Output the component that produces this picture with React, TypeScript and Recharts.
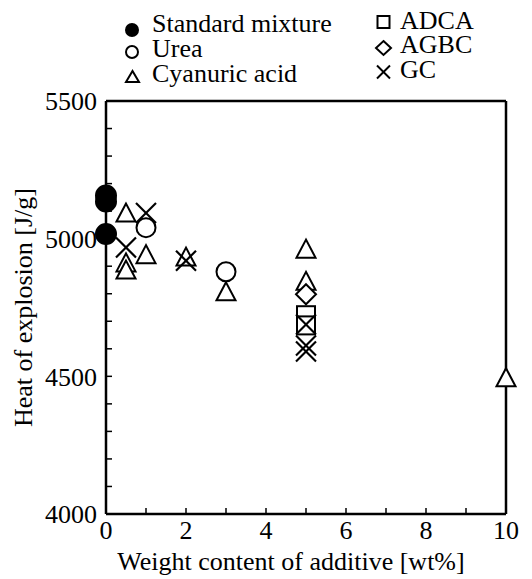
import { ScatterChart, Scatter, XAxis, YAxis, ReferenceLine } from "recharts";

const standardMixture = [
  { x: 0, y: 5157 },
  { x: 0, y: 5135 },
  { x: 0, y: 5017 },
];
const urea = [
  { x: 1, y: 5040 },
  { x: 3, y: 4880 },
];
const cyanuricAcid = [
  { x: 0.5, y: 5093 },
  { x: 0.5, y: 4912 },
  { x: 0.5, y: 4886 },
  { x: 1, y: 4942 },
  { x: 2, y: 4933 },
  { x: 3, y: 4807 },
  { x: 5, y: 4962 },
  { x: 5, y: 4845 },
  { x: 10, y: 4495 },
];
const adca = [
  { x: 5, y: 4722 },
  { x: 5, y: 4685 },
];
const agbc = [
  { x: 5, y: 4798 },
];
const gc = [
  { x: 0.5, y: 4968 },
  { x: 1, y: 5093 },
  { x: 2, y: 4920 },
  { x: 5, y: 4688 },
  { x: 5, y: 4612 },
  { x: 5, y: 4590 },
];

const xTicks = [0, 1, 2, 3, 4, 5, 6, 7, 8, 9, 10];
const yTicks = [4000, 4100, 4200, 4300, 4400, 4500, 4600, 4700, 4800, 4900, 5000, 5100, 5200, 5300, 5400, 5500];

const FONT = "Liberation Serif";
const SW = 2;

const filledCircle = (p: any) => <circle cx={p.cx} cy={p.cy} r={10} fill="#000" stroke="#000" strokeWidth={SW} />;
const openCircle = (p: any) => <circle cx={p.cx} cy={p.cy} r={9.5} fill="#fff" stroke="#000" strokeWidth={SW} />;
const triangle = (p: any) => (
  <polygon
    points={`${p.cx},${p.cy - 9.5} ${p.cx - 9.5},${p.cy + 8.5} ${p.cx + 9.5},${p.cy + 8.5}`}
    fill="#fff"
    stroke="#000"
    strokeWidth={SW}
  />
);
const square = (p: any) => (
  <rect x={p.cx - 9} y={p.cy - 9} width={18} height={18} fill="#fff" stroke="#000" strokeWidth={SW} />
);
const diamond = (p: any) => (
  <polygon
    points={`${p.cx},${p.cy - 10} ${p.cx + 10},${p.cy} ${p.cx},${p.cy + 10} ${p.cx - 10},${p.cy}`}
    fill="#fff"
    stroke="#000"
    strokeWidth={SW}
  />
);
const cross = (p: any) => (
  <g stroke="#000" strokeWidth={2.2}>
    <line x1={p.cx - 10} y1={p.cy - 10} x2={p.cx + 10} y2={p.cy + 10} />
    <line x1={p.cx - 10} y1={p.cy + 10} x2={p.cx + 10} y2={p.cy - 10} />
  </g>
);

const tickStyle = { fontSize: 26, fill: "#000", fontFamily: FONT };

// legend drawn as a separate overlay so it doesn't shift the plot area
const LegendBox = () => (
  <svg width={532} height={100} style={{ position: "absolute", left: 0, top: 0, pointerEvents: "none" }}>
    <g fill="#000" fontSize={26} fontFamily={FONT}>
      <circle cx={132} cy={30} r={7} fill="#000" />
      <text x={152} y={32}>Standard mixture</text>
      <circle cx={132} cy={52} r={6} fill="none" stroke="#000" strokeWidth={2} />
      <text x={152} y={57}>Urea</text>
      <polygon points="132.5,71 126,82 139,82" fill="none" stroke="#000" strokeWidth={2} />
      <text x={152} y={82}>Cyanuric acid</text>

      <rect x={377.5} y={16} width={12} height={12} fill="none" stroke="#000" strokeWidth={2} />
      <text x={400} y={29}>ADCA</text>
      <polygon points="383.5,41 391,48 383.5,55 376,48" fill="none" stroke="#000" strokeWidth={2} />
      <text x={400} y={53}>AGBC</text>
      <g stroke="#000" strokeWidth={2}>
        <line x1={377} y1={65.5} x2={390} y2={78.5} />
        <line x1={377} y1={78.5} x2={390} y2={65.5} />
      </g>
      <text x={400} y={78}>GC</text>
    </g>
  </svg>
);

export default function App() {
  return (
    <div style={{ position: "absolute", left: 0, top: 0, width: 532, height: 579, background: "#fff" }}>
      <ScatterChart width={532} height={579} margin={{ top: 101, right: 26, bottom: 0, left: 0 }}>
        <XAxis
          type="number"
          dataKey="x"
          domain={[0, 10]}
          ticks={xTicks}
          tickFormatter={(v: number) => (v % 2 === 0 ? String(v) : "")}
          height={65}
          tickSize={-6}
          tickMargin={13}
          tick={tickStyle}
          axisLine={{ stroke: "#000", strokeWidth: 2.5 }}
          tickLine={{ stroke: "#000", strokeWidth: 1.5 }}
          label={{
            value: "Weight content of additive [wt%]",
            position: "insideBottom",
            offset: 9,
            dx: -15,
            fontFamily: FONT,
            fontSize: 26,
            fill: "#000",
          }}
        />
        <YAxis
          type="number"
          dataKey="y"
          domain={[4000, 5500]}
          ticks={yTicks}
          tickFormatter={(v: number) => (v % 500 === 0 ? String(v) : "")}
          width={106}
          tickSize={-6}
          tickMargin={15}
          tick={tickStyle}
          axisLine={{ stroke: "#000", strokeWidth: 2.5 }}
          tickLine={{ stroke: "#000", strokeWidth: 1.5 }}
          label={{
            value: "Heat of explosion [J/g]",
            angle: -90,
            position: "insideLeft",
            offset: 23,
            fontFamily: FONT,
            fontSize: 26,
            fill: "#000",
            style: { textAnchor: "middle" },
          }}
        />
        <ReferenceLine x={10} stroke="#000" strokeWidth={2.5} />
        <ReferenceLine y={5500} stroke="#000" strokeWidth={2.5} />
        <Scatter data={standardMixture} shape={filledCircle} isAnimationActive={false} />
        <Scatter data={urea} shape={openCircle} isAnimationActive={false} />
        <Scatter data={cyanuricAcid} shape={triangle} isAnimationActive={false} />
        <Scatter data={agbc} shape={diamond} isAnimationActive={false} />
        <Scatter data={adca} shape={square} isAnimationActive={false} />
        <Scatter data={gc} shape={cross} isAnimationActive={false} />
      </ScatterChart>
      <LegendBox />
    </div>
  );
}
